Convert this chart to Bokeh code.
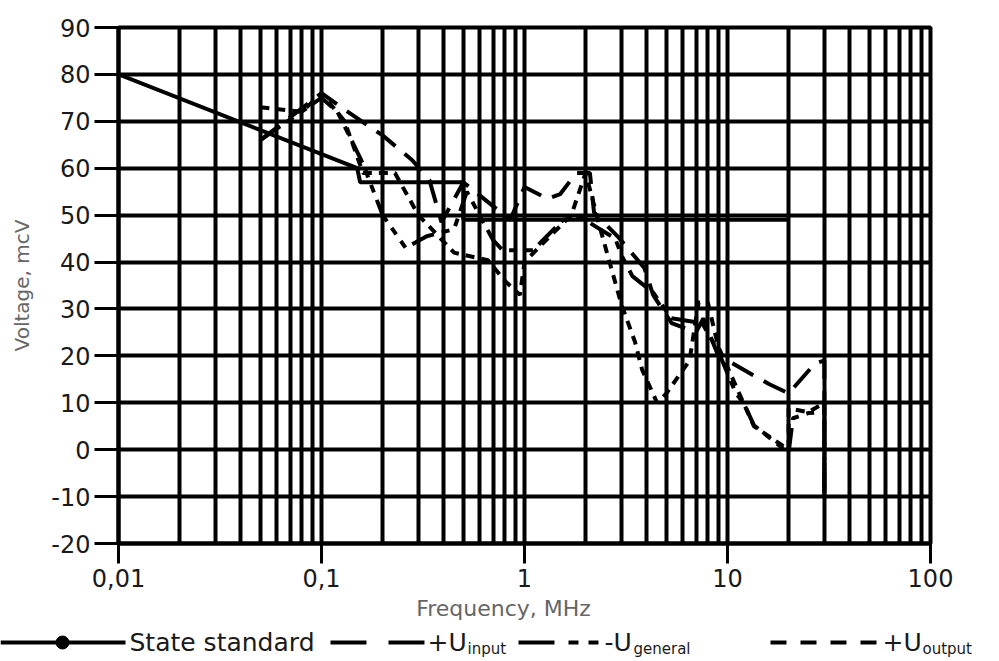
from bokeh.plotting import figure
from bokeh.models import Range1d, FixedTicker, CustomJSTickFormatter
from bokeh.layouts import column
from bokeh.embed import file_html
from bokeh.resources import INLINE
from bokeh.core.properties import value

# ---------------- data ----------------
x_ticks = [0.01, 0.1, 1, 10, 100]
y_ticks = [-20, -10, 0, 10, 20, 30, 40, 50, 60, 70, 80, 90]
x_grid = [k * 10.0 ** d for d in (-2, -1, 0, 1) for k in range(1, 10)] + [100]

std_f = [0.01, 0.15, 0.155, 0.5, 0.5, 20]
std_v = [80, 60, 57, 57, 49, 49]

input_f = [0.05, 0.1, 0.125, 0.2, 0.28, 0.34, 0.39, 0.5, 0.85, 1.0, 1.3, 1.5, 1.8, 2.1, 2.2,
           2.9, 3.9, 4.3, 5.3, 7.0, 7.6, 9.0, 10, 16, 20, 27, 30, 30]
input_v = [66, 76, 73, 67, 61.7, 57.5, 48.5, 57, 49, 56, 53.5, 54.5, 59, 59, 50.6,
           45.3, 38.7, 33, 27, 25, 28, 20, 19, 14, 12, 18.4, 19, -10]

general_f = [0.05, 0.1, 0.12, 0.16, 0.2, 0.26, 0.33, 0.45, 0.52, 0.7, 0.78, 1.1, 1.55, 1.9,
             2.8, 3.0, 3.4, 4.3, 5.3, 7.5, 9, 11, 12, 13.5, 20, 21, 25, 30, 30]
general_v = [66, 75, 72, 61, 50, 43, 45.5, 47, 55, 44.7, 42.5, 42.5, 49, 49.5,
             45, 41.5, 37, 33.5, 28, 27, 21, 12, 10, 5.2, -0.7, 6.7, 7.8, 8, -10]

output_f = [0.05, 0.08, 0.1, 0.13, 0.16, 0.23, 0.3, 0.45, 0.66, 0.8, 0.95, 1.0, 1.3, 1.7, 2.0,
            2.4, 3.0, 3.5, 3.8, 4.5, 5.0, 6.5, 7.2, 8.0, 9.0, 13.5, 20, 20, 25, 30, 30]
output_v = [73, 72, 76, 70, 59, 59, 50, 42, 40.4, 36, 33, 40, 45, 50, 59,
            46, 31, 23, 17, 10, 12, 19, 31.4, 31.4, 22, 5, 0, 8.8, 8, 10, -10]

FONT = value("DejaVu Sans")

# ---------------- main chart ----------------
p = figure(width=999, height=594, x_axis_type="log",
           x_range=Range1d(0.01, 100), y_range=Range1d(-20, 90),
           output_backend="svg", toolbar_location=None,
           min_border_left=118, min_border_right=69, min_border_top=27, min_border_bottom=51)
p.frame_align = False
p.background_fill_color = "white"
p.border_fill_color = "white"
p.outline_line_color = "black"
p.outline_line_width = 4

p.xgrid.ticker = FixedTicker(ticks=x_grid)
p.ygrid.ticker = FixedTicker(ticks=y_ticks)
for g in (p.xgrid, p.ygrid):
    g.grid_line_color = "black"
    g.grid_line_width = 4
    g.grid_line_alpha = 1.0

p.xaxis.ticker = FixedTicker(ticks=x_ticks)
p.xaxis.formatter = CustomJSTickFormatter(code="return tick.toString().replace('.', ',');")
p.yaxis.ticker = FixedTicker(ticks=y_ticks)
p.yaxis.formatter = CustomJSTickFormatter(code="return tick.toFixed(0);")
for ax in (p.xaxis, p.yaxis):
    ax.axis_line_width = 4
    ax.axis_line_color = "black"
    ax.major_tick_line_width = 3
    ax.major_tick_line_color = "black"
    ax.major_tick_in = 0
    ax.minor_tick_line_color = None
    ax.major_label_text_font = "DejaVu Sans"
    ax.major_label_text_font_size = "24px"
    ax.major_label_text_color = "#1a1a1a"
p.xaxis.major_tick_out = 20
p.xaxis.major_label_standoff = 5
p.yaxis.major_tick_out = 24
p.yaxis.major_label_standoff = 4
p.yaxis.axis_label = "Voltage, mcV"
p.yaxis.axis_label_text_font = "DejaVu Sans"
p.yaxis.axis_label_text_font_size = "20px"
p.yaxis.axis_label_text_font_style = "normal"
p.yaxis.axis_label_text_color = "#666666"
p.yaxis.axis_label_standoff = 14

p.line(std_f, std_v, line_color="black", line_width=4)
p.line(input_f, input_v, line_color="black", line_width=4, line_dash="24 12")
p.line(general_f, general_v, line_color="black", line_width=4, line_dash="24 8 8 8 8 8")
p.line(output_f, output_v, line_color="black", line_width=4, line_dash="9 7")

# ---------------- x title + legend strip ----------------
q = figure(width=999, height=67, x_range=Range1d(0, 999), y_range=Range1d(67, 0),
           output_backend="svg", toolbar_location=None,
           x_axis_location=None, y_axis_location=None, min_border=0)
q.frame_align = False
q.grid.visible = False
q.outline_line_color = None
q.background_fill_color = "white"
q.border_fill_color = "white"

q.text(x=[503], y=[14], text=["Frequency, MHz"], text_font=FONT, text_font_size=value("22px"),
       text_align="center", text_baseline="middle", text_color="#666666")

LY = 48
TXT = "#1a1a1a"
# State standard
q.line([0, 125], [LY, LY], line_color="black", line_width=4)
q.scatter([62], [LY], size=13, color="black")
q.text(x=[129], y=[LY], text=["State standard"], text_font=FONT, text_font_size=value("25px"),
       text_baseline="middle", text_color=TXT)
# +U input
q.line([330, 425], [LY, LY], line_color="black", line_width=4, line_dash="36 22")
q.text(x=[427], y=[LY], text=["+U"], text_font=FONT, text_font_size=value("25px"),
       text_baseline="middle", text_color=TXT)
q.text(x=[467], y=[LY + 6], text=["input"], text_font=FONT, text_font_size=value("15px"),
       text_baseline="middle", text_color=TXT)
# -U general
q.line([518, 602], [LY, LY], line_color="black", line_width=4, line_dash="36 14 10 10 10 10")
q.text(x=[604], y=[LY], text=["-U"], text_font=FONT, text_font_size=value("25px"),
       text_baseline="middle", text_color=TXT)
q.text(x=[633], y=[LY + 6], text=["general"], text_font=FONT, text_font_size=value("15px"),
       text_baseline="middle", text_color=TXT)
# +U output
q.line([770, 878], [LY, LY], line_color="black", line_width=4, line_dash="16 14")
q.text(x=[882], y=[LY], text=["+U"], text_font=FONT, text_font_size=value("25px"),
       text_baseline="middle", text_color=TXT)
q.text(x=[922], y=[LY + 6], text=["output"], text_font=FONT, text_font_size=value("15px"),
       text_baseline="middle", text_color=TXT)

layout = column(p, q, spacing=0)
open("out.html", "w").write(file_html(layout, INLINE))
